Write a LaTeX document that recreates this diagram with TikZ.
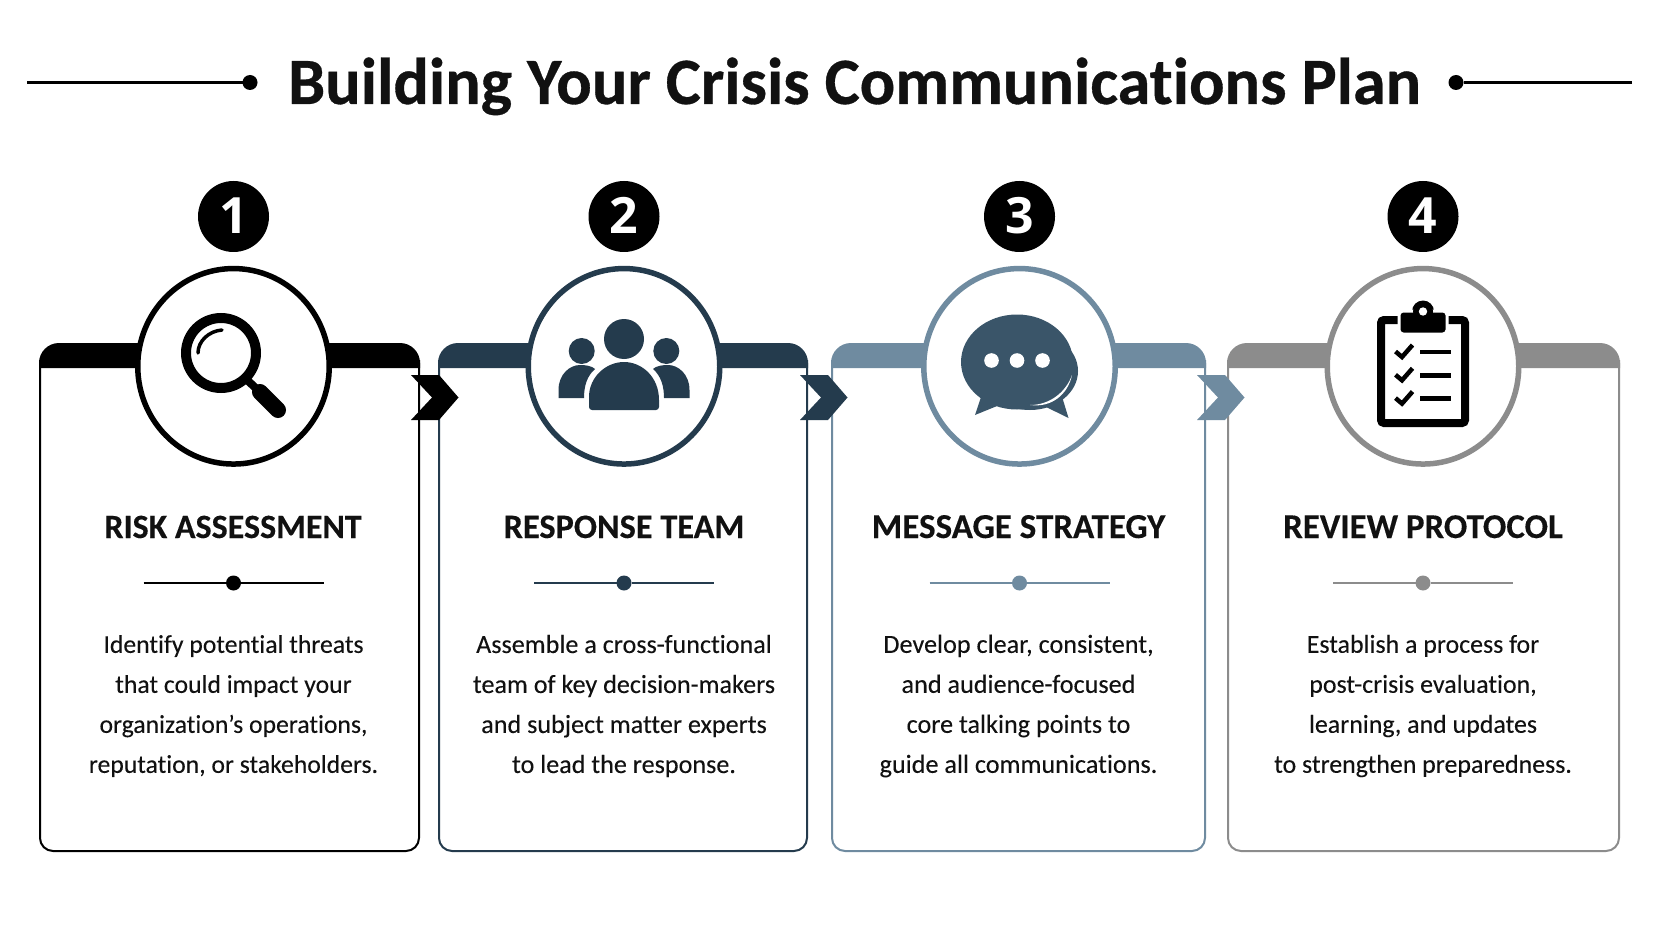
\documentclass[tikz,border=0pt]{standalone}
\usepackage{fontspec}
\usetikzlibrary{shapes.geometric}
\setmainfont{Carlito}[Ligatures=NoCommon,FakeBold=0.12]
\newfontfamily\numfont{Open Sans}
\newfontfamily\heavyfont{Carlito}[Ligatures=NoCommon,BoldFeatures={FakeBold=0.5}]
\newfontfamily\headfont{Carlito}[Ligatures=NoCommon,BoldFeatures={FakeBold=0.25}]
\definecolor{cA}{HTML}{000000}
\definecolor{cB}{HTML}{243B4D}
\definecolor{cC}{HTML}{6F8BA0}
\definecolor{cD}{HTML}{8C8C8C}
\definecolor{iconC}{HTML}{3A5569}
\definecolor{ink}{HTML}{111111}
\tikzset{
  titletext/.style={anchor=base,inner sep=0pt,text=ink,font=\fontsize{66.2}{70}\selectfont\heavyfont\bfseries},
  headtext/.style={anchor=base,inner sep=0pt,text=ink,font=\fontsize{#1}{36}\selectfont\headfont\bfseries},
  bodytext/.style={anchor=center,inner sep=0pt,align=center,text=ink,font=\fontsize{#1}{40}\selectfont},
  numbadge/.style={circle,fill=black,minimum size=71pt,inner sep=0pt,outer sep=0pt},
  numtext/.style={anchor=base,inner sep=0pt,text=white,font=\fontsize{50}{50}\selectfont\numfont\bfseries},
  hubring/.style={ellipse,draw=#1,fill=white,line width=5.5pt,minimum width=191.5pt,minimum height=195.5pt,inner sep=0pt,outer sep=0pt},
  cardbox/.style={rectangle,inner sep=0pt,outer sep=0pt,fill=none},
  tick/.style={circle,fill=#1,minimum size=15pt,inner sep=0pt,outer sep=0pt},
  rule/.style={draw=#1,line width=2pt},
}
% L R centre colour name
\newcommand{\makecard}[5]{%
  \pgfmathsetmacro{\cardw}{#2-#1}%
  \pgfmathsetmacro{\cardx}{(#1+#2)/2}%
  \node[cardbox,minimum width=\cardw pt,minimum height=508pt] (card#5) at (\cardx,597) {};
  \draw[#4,line width=2pt] (#1+1,360) [rounded corners=13pt] -- (#1+1,851) -- (#2-1,851) [sharp corners] -- (#2-1,360);
  \fill[#4] (#1,368) [rounded corners=20pt] -- (#1,343) -- (#2,343) [sharp corners] -- (#2,368) -- cycle;
  \node[hubring=#4] (hub#5) at (#3,366.3) {};
  \node[numbadge] (badge#5) at (#3,216.5) {};
  \node[numtext] (num#5) at (#3,234) {#5};
  \node[tick=#4] (dot#5) at (#3,583) {};
  \coordinate (ruleL#5) at (#3-90,583);
  \coordinate (ruleR#5) at (#3+90,583);
  \draw[rule=#4] (ruleL#5) -- (dot#5) -- (ruleR#5);
}
% x colour
\newcommand{\makechevron}[2]{%
  \fill[#2] (#1,375) -- (#1+28,375) -- (#1+47.5,397.5) -- (#1+28,420) -- (#1,420) -- (#1+21,397.5) -- cycle;
}
\begin{document}
\begin{tikzpicture}[x=1pt,y=-1pt]
\useasboundingbox (0,0) rectangle (1672,941);
\fill[white] (0,0) rectangle (1672,941);
% title
\node[titletext] (title) at (854.5,104) {Building Your Crisis Communications Plan};
\node[circle,fill=black,minimum size=15pt,inner sep=0pt,outer sep=0pt] (titleL) at (250,82.5) {};
\node[circle,fill=black,minimum size=15pt,inner sep=0pt,outer sep=0pt] (titleR) at (1456,82.5) {};
\coordinate (titleLend) at (27,82.5);
\coordinate (titleRend) at (1632,82.5);
\draw[black,line width=3pt] (titleLend) -- (titleL);
\draw[black,line width=3pt] (titleRend) -- (titleR);
% cards
\makecard{39}{420}{233.5}{cA}{1}
\makecard{438}{808}{624}{cB}{2}
\makecard{831}{1206}{1019.5}{cC}{3}
\makecard{1227}{1620}{1423}{cD}{4}
\makechevron{411}{cA}
\makechevron{800}{cB}
\makechevron{1197}{cC}
% headings
\node[headtext=34] (head1) at (233,538) {RISK ASSESSMENT};
\node[headtext=34.3] (head2) at (624,538) {RESPONSE TEAM};
\node[headtext=35] (head3) at (1018.5,538) {MESSAGE STRATEGY};
\node[headtext=34.8] (head4) at (1423,538) {REVIEW PROTOCOL};
% bodies
\node[bodytext=25.7] (body1) at (233.5,706) {Identify potential threats\\that could impact your\\organization’s operations,\\reputation, or stakeholders.};
\node[bodytext=26.15] (body2) at (624,706) {Assemble a cross-functional\\team of key decision-makers\\and subject matter experts\\to lead the response.};
\node[bodytext=26.2] (body3) at (1018.5,706) {Develop clear, consistent,\\and audience-focused\\core talking points to\\guide all communications.};
\node[bodytext=25.9] (body4) at (1423,706) {Establish a process for\\post-crisis evaluation,\\learning, and updates\\to strengthen preparedness.};
% magnifier
\draw[black,line width=10pt] (221,353) circle (35);
\draw[black,line width=3.5pt,line cap=round] (198,353) .. controls (198,341) and (209,331) .. (222,330);
\draw[black,line width=8pt] (245,378) -- (262,394);
\draw[black,line width=16pt,line cap=round] (260,392) -- (278,410);
% people
\fill[cB] (624,339) circle (20);
\fill[cB] (581.7,351) circle (13);
\fill[cB] (666.3,351) circle (13);
\fill[cB,rounded corners=3pt] (589,410) -- (589,400) [sharp corners] .. controls (589,377) and (606,362) .. (624,362) .. controls (642,362) and (659,377) .. (659,400) [rounded corners=3pt] -- (659,410) -- cycle;
\fill[cB] (558.5,398) -- (558.5,390) .. controls (558.5,374) and (570,365) .. (580,365) .. controls (586,365) and (592,366) .. (595,369) .. controls (587,376) and (584,386) .. (584,398) -- cycle;
\fill[cB] (689.5,398) -- (689.5,390) .. controls (689.5,374) and (678,365) .. (668,365) .. controls (662,365) and (656,366) .. (653,369) .. controls (661,376) and (664,386) .. (664,398) -- cycle;
% speech bubble
\fill[iconC] (1030,371) ellipse [x radius=48,y radius=39];
\fill[iconC] (1017,362) ellipse [x radius=56,y radius=47.5];
\fill[iconC] (982,394) -- (975,415) -- (1002,404) -- cycle;
\fill[iconC] (1044,406) -- (1068.5,418) -- (1061.5,395) -- cycle;
\fill[white] (1030,405) .. controls (1050,405) and (1066,392) .. (1072,375) .. controls (1068,394) and (1052,408) .. (1030,405);
\foreach \dx in {991.5,1017,1042.5} \fill[white] (\dx,360.5) circle (7.3);
% clipboard
\draw[black,line width=8pt,rounded corners=3pt] (1381,320) rectangle (1465,423);
\fill[black] (1423,311.5) circle (11);
\filldraw[black,draw=white,line width=3pt,rounded corners=4pt] (1399,311) rectangle (1447,334);
\fill[black] (1423,311.5) circle (10);
\fill[white] (1423,311.5) circle (4.2);
\foreach \dy in {0,23.3,46.6} {
  \draw[black,line width=4.5pt] (1395.5,351.5+\dy) -- (1402,357+\dy) -- (1412.5,345+\dy);
  \draw[black,line width=4.5pt] (1420,352+\dy) -- (1451,352+\dy);
}
\end{tikzpicture}
\end{document}
